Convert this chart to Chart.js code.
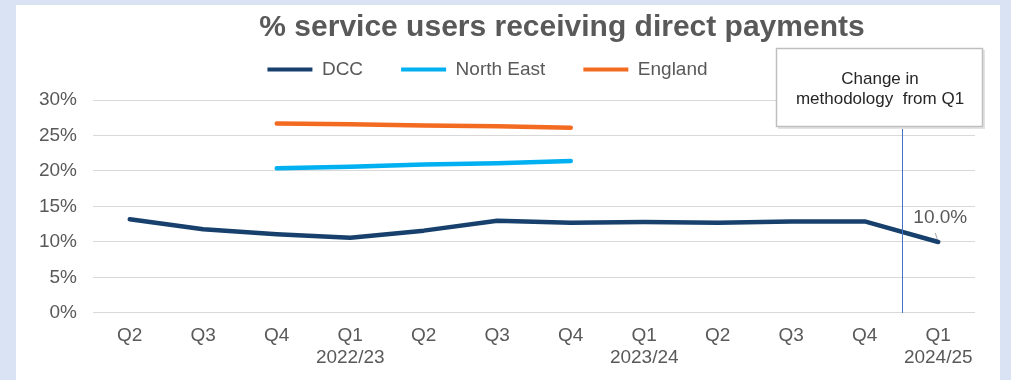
<!DOCTYPE html>
<html>
<head>
<meta charset="utf-8">
<script src="https://cdn.jsdelivr.net/npm/chart.js@4/dist/chart.umd.min.js"></script>
<style>
  html, body { margin: 0; padding: 0; background: #dae3f3; }
  #wrap { width: 1011px; height: 380px; position: relative; }
</style>
</head>
<body>
<div id="wrap"><canvas id="dpChart" width="1011" height="380"></canvas></div>
<script>
// quarters, with the financial year shown under each Q1
const quarters = [
    'Q2', 'Q3', 'Q4', ['Q1', '2022/23'], 'Q2', 'Q3', 'Q4', ['Q1', '2023/24'],
    'Q2', 'Q3', 'Q4', ['Q1', '2024/25']
];
const dccValues = [13.2, 11.8, 11.1, 10.6, 11.6, 13.0, 12.7, 12.8, 12.7, 12.9, 12.9, 10.0];
const northEastValues = [null, null, 20.4, 20.6, 20.9, 21.1, 21.4, null, null, null, null, null];
const englandValues = [null, null, 26.7, 26.6, 26.4, 26.3, 26.1, null, null, null, null, null];
const yTicks = [0, 5, 10, 15, 20, 25, 30];

const chartTitle = '% service users receiving direct payments';
const noteLines = ['Change in', 'methodology  from Q1'];

const TEXT = '#595959';
const FONT = 'Arial, "Liberation Sans", sans-serif';

// white panel, title, methodology note and the last DCC value
const decorations = {
    id: 'decorations',
    beforeInit(chart) {
        // leave a gap between the legend and the plot
        const fit = chart.legend.fit;
        chart.legend.fit = function () {
            fit.call(this);
            this.height += 11;
        };
    },
    beforeDraw(chart) {
        const ctx = chart.ctx;
        ctx.save();
        ctx.fillStyle = '#dae3f3';
        ctx.fillRect(0, 0, chart.width, chart.height);
        ctx.fillStyle = '#ffffff';
        ctx.fillRect(16, 5, 984, chart.height - 5);

        ctx.fillStyle = TEXT;
        ctx.font = 'bold 30px ' + FONT;
        ctx.textAlign = 'center';
        ctx.textBaseline = 'middle';
        ctx.fillText(chartTitle, 562, 28);
        ctx.restore();
    },
    afterDatasetsDraw(chart) {
        const ctx = chart.ctx;
        const x = chart.scales.x;
        const area = chart.chartArea;

        // methodology break between the last two quarters
        const breakX = Math.round(x.getPixelForValue(10.5)) + 0.5;
        const boxTop = 48, boxBottom = 127;
        ctx.save();
        ctx.strokeStyle = '#4472c4';
        ctx.lineWidth = 1;
        ctx.beginPath();
        ctx.moveTo(breakX, boxBottom);
        ctx.lineTo(breakX, area.bottom);
        ctx.stroke();

        ctx.fillStyle = '#e3e3e3';
        ctx.fillRect(778, boxTop + 2, 207, boxBottom - boxTop);
        ctx.fillStyle = '#ffffff';
        ctx.fillRect(776, boxTop, 207, boxBottom - boxTop);
        ctx.strokeStyle = '#bfbfbf';
        ctx.lineWidth = 1.5;
        ctx.strokeRect(776.5, boxTop + 0.5, 206, boxBottom - boxTop - 1);

        ctx.fillStyle = '#262626';
        ctx.font = '17px ' + FONT;
        ctx.textAlign = 'center';
        ctx.textBaseline = 'middle';
        ctx.fillText(noteLines[0], 880, 79);
        ctx.fillText(noteLines[1], 880, 99);

        // value label on the latest DCC point
        const meta = chart.getDatasetMeta(0);
        const last = dccValues.length - 1;
        const pt = meta.data[last];
        ctx.strokeStyle = '#a6a6a6';
        ctx.lineWidth = 1;
        ctx.beginPath();
        ctx.moveTo(pt.x - 3, pt.y - 9);
        ctx.lineTo(pt.x - 1, pt.y - 3);
        ctx.stroke();
        ctx.fillStyle = TEXT;
        ctx.font = '19px ' + FONT;
        ctx.fillText(dccValues[last].toFixed(1) + '%', pt.x + 2, pt.y - 24);
        ctx.restore();
    }
};

function lineSet(label, data, color) {
    return {
        label: label,
        data: data,
        borderColor: color,
        backgroundColor: color,
        borderWidth: 4.5,
        borderCapStyle: 'round',
        borderJoinStyle: 'round',
        pointRadius: 0,
        pointHoverRadius: 0,
        tension: 0,
        spanGaps: false
    };
}

new Chart(document.getElementById('dpChart'), {
    type: 'line',
    data: {
        labels: quarters,
        datasets: [
            lineSet('DCC', dccValues, '#17406d'),
            lineSet('North East', northEastValues, '#00b0f0'),
            lineSet('England', englandValues, '#f26b21')
        ]
    },
    options: {
        responsive: false,
        animation: false,
        events: [],
        layout: { padding: { top: 22, right: 36, bottom: -1, left: 0 } },
        plugins: {
            title: { display: false },
            tooltip: { enabled: false },
            legend: {
                position: 'top',
                labels: {
                    color: TEXT,
                    font: { family: FONT, size: 19 },
                    boxWidth: 45,
                    boxHeight: 4,
                    padding: 38,
                    generateLabels(chart) {
                        return chart.data.datasets.map((ds, i) => ({
                            text: ds.label,
                            fillStyle: ds.borderColor,
                            strokeStyle: ds.borderColor,
                            lineWidth: 0,
                            fontColor: TEXT,
                            datasetIndex: i
                        }));
                    }
                }
            }
        },
        scales: {
            x: {
                offset: true,
                grid: { display: false, drawTicks: false },
                border: { display: false },
                ticks: {
                    color: TEXT,
                    padding: 12,
                    maxRotation: 0,
                    autoSkip: false,
                    font: { family: FONT, size: 19, lineHeight: 1.158 }
                }
            },
            y: {
                min: 0,
                max: 30,
                afterBuildTicks(scale) {
                    scale.ticks = yTicks.map(v => ({ value: v }));
                },
                afterFit(scale) {
                    scale.width = 93;
                },
                grid: { color: '#d9d9d9', lineWidth: 1, drawTicks: false },
                border: { display: false },
                ticks: {
                    color: TEXT,
                    padding: 16,
                    font: { family: FONT, size: 19 },
                    callback: v => v + '%'
                }
            }
        }
    },
    plugins: [decorations]
});
</script>
</body>
</html>
